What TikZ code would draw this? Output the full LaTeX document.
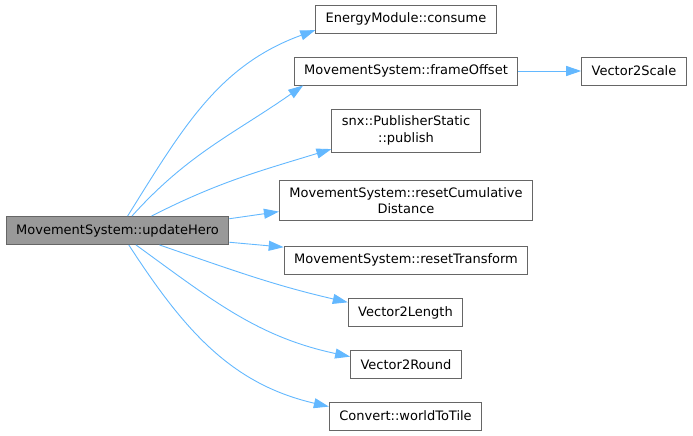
\documentclass[tikz,border=0pt]{standalone}
\usepackage{fontspec}
\setmainfont{DejaVu Sans}
\usetikzlibrary{arrows.meta}
\definecolor{edgeblue}{HTML}{63B8FF}
\definecolor{boxgray}{HTML}{666666}
\definecolor{rootfill}{HTML}{999999}
\begin{document}
\begin{tikzpicture}[x=1pt,y=1pt,
  fn/.style={draw=boxgray, fill=white, line width=0.9pt, inner xsep=10pt, inner ysep=7pt,
    minimum height=28pt, align=center, font=\fontsize{13}{16.5}\selectfont},
  root/.style={fn, fill=rootfill},
  call/.style={draw=edgeblue, line width=0.9pt, -{Triangle[length=15pt,width=10pt]}}]
\useasboundingbox (0,0) rectangle (693,-436);
\node[root] (hero) at (117.5,-230.5) {MovementSystem::updateHero};
\node[fn] (consume) at (406,-19) {EnergyModule::consume};
\node[fn] (offset) at (406,-71) {MovementSystem::frameOffset};
\node[fn] (scale) at (634,-71) {Vector2Scale};
\node[fn] (publish) at (406,-130.5) {snx::PublisherStatic\\::publish};
\node[fn] (cumul) at (406,-200.5) {MovementSystem::resetCumulative\\Distance};
\node[fn] (transf) at (406,-260) {MovementSystem::resetTransform};
\node[fn] (length) at (405.5,-312.5) {Vector2Length};
\node[fn] (round) at (406,-364.5) {Vector2Round};
\node[fn] (tile) at (405.5,-416) {Convert::worldToTile};
\draw[call] (hero.55) to[out=58,in=200] (consume.187);
\draw[call] (hero.45) to[out=48,in=215] (offset.188);
\draw[call] (hero.23) to[out=27,in=197] (publish.194);
\draw[call] (hero.6) -- (cumul.185);
\draw[call] (hero.-6) -- (transf.174);
\draw[call] (hero.-19) to[out=-19,in=167] (length.170);
\draw[call] (hero.-38) to[out=-36,in=168] (round.172);
\draw[call] (hero.-52) to[out=-57,in=167] (tile.173);
\draw[call] (offset) -- (scale);
\end{tikzpicture}
\end{document}
